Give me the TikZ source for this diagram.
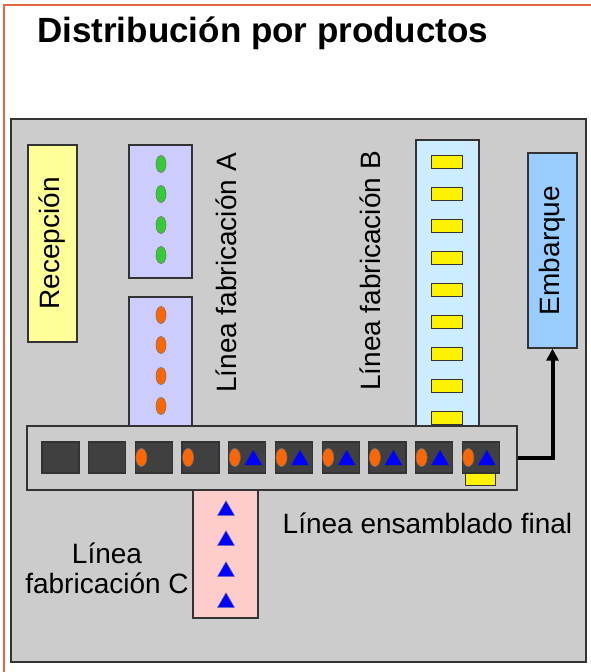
\documentclass[tikz,border=0pt]{standalone}
\usepackage{fontspec}
\setmainfont{Liberation Sans}
\usetikzlibrary{arrows.meta, positioning, shapes.geometric}

\definecolor{frameorange}{RGB}{226,104,66}
\definecolor{floorgray}{RGB}{204,204,204}
\definecolor{edgegray}{RGB}{51,51,51}
\definecolor{stationgray}{RGB}{64,64,64}
\definecolor{recyellow}{RGB}{255,255,153}
\definecolor{lineAfill}{RGB}{204,204,255}
\definecolor{lineBfill}{RGB}{204,236,255}
\definecolor{lineCfill}{RGB}{255,204,204}
\definecolor{shipblue}{RGB}{153,204,255}
\definecolor{partorange}{RGB}{255,102,0}
\definecolor{partgreen}{RGB}{51,204,51}

\begin{document}
\begin{tikzpicture}[x=1pt, y=-1pt,
  box/.style={draw=edgegray, line width=1.3pt, inner sep=0pt},
  lbl/.style={font=\fontsize{28}{30}\selectfont, inner sep=0pt},
  station/.style={box, fill=stationgray, minimum width=37pt, minimum height=31pt},
  part/.style={ellipse, draw=black!55, line width=0.6pt, inner sep=0pt, minimum width=10pt, minimum height=17pt},
  tri/.style={regular polygon, regular polygon sides=3, fill=blue, draw=black!40, line width=0.4pt, inner sep=0pt, minimum size=20pt},
  bar/.style={draw=black!80, line width=1pt, fill=yellow, inner sep=0pt, minimum width=31pt, minimum height=13pt}]

  \useasboundingbox (0,0) rectangle (591,672);

  % Frame and floor
  \draw[frameorange, line width=2.5pt] (4,672) |- (591,5);
  \node[anchor=base west, inner sep=0pt, font=\fontsize{35}{40}\selectfont\bfseries] (title) at (37,42) {Distribución por productos};
  \node[draw=edgegray, line width=2.5pt, fill=floorgray, minimum width=575pt, minimum height=543pt] (floor) at (298.5,390.5) {};

  % Areas
  \node[box, lbl, fill=recyellow, rotate=90, minimum width=197pt, minimum height=49pt] (rec) at (52.5,243.5) {Recepción};
  \node[box, fill=shipblue, lbl, rotate=90, minimum width=195pt, minimum height=49pt] (emb) at (552.5,250.5) {Embarque};

  % Fabrication lines
  \node[box, fill=lineAfill, minimum width=63pt, minimum height=133pt] (A1) at (160.5,211.5) {};
  \node[box, fill=lineAfill, minimum width=63pt, minimum height=133pt] (A2) at (160.5,363.5) {};
  \node[box, fill=lineBfill, minimum width=63pt, minimum height=290pt] (B) at (447.5,285) {};
  \node[box, fill=lineCfill, minimum width=65pt, minimum height=128pt] (C) at (225.5,554) {};

  \foreach \y [count=\k] in {164,194,225,255}
    \node[part, fill=partgreen] (ga\k) at (161,\y) {};
  \foreach \y [count=\k] in {315,345,376,406}
    \node[part, fill=partorange] (oa\k) at (161,\y) {};
  \foreach \k in {0,...,8}
    \node[bar] (yb\k) at (446.5,162+32*\k) {};
  \foreach \y [count=\k] in {510.5,540.5,571.5,602.5}
    \node[tri] (tc\k) at (226,\y) {};

  % Final assembly line
  \node[box, fill=floorgray, minimum width=490pt, minimum height=64pt] (asm) at (272,458) {};
  \foreach \i in {1,...,10}
    \node[station] (s\i) at ({60.5+46.7*(\i-1)},457.5) {};
  \foreach \i in {3,...,10}
    \node[part, fill=partorange, minimum width=11pt, minimum height=18pt] at ([xshift=-12.5pt]s\i.center) {};
  \foreach \i in {5,...,10}
    \node[tri, draw=none] at ([xshift=6pt, yshift=-2.5pt]s\i.center) {};
  \node[bar, minimum width=30pt, minimum height=12pt] (yend) at ([yshift=-21.5pt]s10.center) {};

  % Labels
  \node[lbl, rotate=90] (labA) at (226,273) {Línea fabricación A};
  \node[lbl, rotate=90] (labB) at (370,271) {Línea fabricación B};
  \node[lbl] (labF) at (427.5,523) {Línea ensamblado final};
  \node[lbl, align=center] (labC) at (107,568) {Línea\\fabricación C};

  % Flow to shipping
  \draw[line width=4pt, -{Triangle[length=12pt, width=12pt]}] (asm.east) -| (emb.west);

\end{tikzpicture}
\end{document}
